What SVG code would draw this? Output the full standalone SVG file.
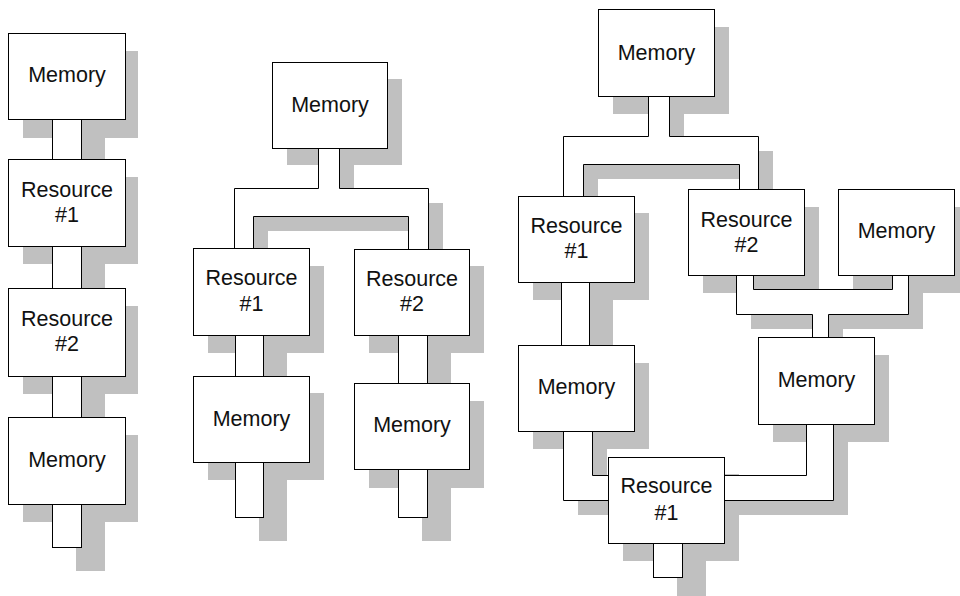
<svg xmlns="http://www.w3.org/2000/svg" xmlns:xlink="http://www.w3.org/1999/xlink" width="960" height="596" viewBox="0 0 960 596">
<style>
.sh{fill:#c0c0c0;stroke:none}
.bx{fill:#fff;stroke:#000;stroke-width:1}
.bf{fill:#fff;stroke:none}
.ln{fill:none;stroke:#000;stroke-width:1}
text{font-family:"Liberation Sans",Arial,sans-serif;font-size:21.5px;fill:#111;text-anchor:middle}
</style>
<defs>
<polygon id="b2" points="318,148 318,188 234,188 234,248 253,248 253,216 408,216 408,249 428,249 428,188 339,188 339,148"/>
<polygon id="b3t" points="648,96 648,136 563,136 563,196 583,196 583,164 739,164 739,189 758,189 758,136 669,136 669,96"/>
<polygon id="b3r" points="736,275 736,314 812,314 812,337 828,337 828,314 908,314 908,275 892,275 892,289 753,289 753,275"/>
<polygon id="b3l" points="563,431 563,500 608,500 608,475 592,475 592,431"/>
<polygon id="b3m" points="806,424 806,475 724,475 724,500 833,500 833,424"/>
</defs>
<g id="shadows" class="sh">
<rect x="23" y="51" width="115" height="87"/>
<rect x="23" y="177" width="115" height="87"/>
<rect x="23" y="306" width="115" height="88"/>
<rect x="23" y="435" width="115" height="87"/>
<rect x="76" y="119" width="29" height="64"/>
<rect x="76" y="246" width="29" height="66"/>
<rect x="76" y="376" width="29" height="65"/>
<rect x="76" y="504" width="29" height="67"/>
<rect x="287" y="79" width="115" height="86"/>
<rect x="208" y="266" width="116" height="87"/>
<rect x="369" y="266" width="115" height="87"/>
<rect x="208" y="393" width="116" height="87"/>
<rect x="369" y="401" width="115" height="87"/>
<rect x="259" y="335" width="28" height="65"/>
<rect x="259" y="462" width="28" height="79"/>
<rect x="422" y="335" width="29" height="72"/>
<rect x="422" y="469" width="29" height="72"/>
<use xlink:href="#b2" transform="translate(15,15)"/>
<rect x="613" y="27" width="116" height="87"/>
<rect x="533" y="213" width="116" height="87"/>
<rect x="703" y="207" width="116" height="86"/>
<rect x="853" y="207" width="116" height="86"/>
<rect x="533" y="363" width="116" height="86"/>
<rect x="773" y="355" width="116" height="87"/>
<rect x="623" y="474" width="116" height="87"/>
<rect x="585" y="282" width="28" height="87"/>
<rect x="677" y="543" width="29" height="58"/>
<use xlink:href="#b3t" transform="translate(15,15)"/>
<use xlink:href="#b3r" transform="translate(15,15)"/>
<use xlink:href="#b3l" transform="translate(15,15)"/>
<use xlink:href="#b3m" transform="translate(15,15)"/>
</g>
<g id="connectors" transform="translate(0.5,0.5)">
<rect class="bx" x="52" y="119" width="29" height="40"/>
<rect class="bx" x="52" y="246" width="29" height="42"/>
<rect class="bx" x="52" y="376" width="29" height="41"/>
<rect class="bx" x="52" y="504" width="29" height="43"/>
<rect class="bx" x="235" y="335" width="28" height="41"/>
<rect class="bx" x="235" y="462" width="28" height="55"/>
<rect class="bx" x="398" y="335" width="29" height="48"/>
<rect class="bx" x="398" y="469" width="29" height="48"/>
<rect class="bx" x="561" y="282" width="28" height="63"/>
<rect class="bx" x="653" y="543" width="29" height="34"/>
<use xlink:href="#b2" class="bf"/>
<use xlink:href="#b3t" class="bf"/>
<use xlink:href="#b3r" class="bf"/>
<use xlink:href="#b3l" class="bf"/>
<use xlink:href="#b3m" class="bf"/>
<polyline class="ln" points="318,148 318,188 234,188 234,248"/>
<polyline class="ln" points="253,248 253,216 408,216 408,249"/>
<polyline class="ln" points="339,148 339,188 428,188 428,249"/>
<polyline class="ln" points="648,96 648,136 563,136 563,196"/>
<polyline class="ln" points="583,196 583,164 739,164 739,189"/>
<polyline class="ln" points="669,96 669,136 758,136 758,189"/>
<polyline class="ln" points="736,275 736,314 812,314 812,337"/>
<polyline class="ln" points="828,337 828,314 908,314 908,275"/>
<polyline class="ln" points="753,275 753,289 892,289 892,275"/>
<polyline class="ln" points="563,431 563,500 608,500"/>
<polyline class="ln" points="592,431 592,475 608,475"/>
<polyline class="ln" points="806,424 806,475 724,475"/>
<polyline class="ln" points="833,424 833,500 724,500"/>
</g>
<g id="c1-memory-top"><rect class="bx" x="8.5" y="33.5" width="117" height="86"/><text x="67" y="82">Memory</text></g>
<g id="c1-resource-1"><rect class="bx" x="8.5" y="159.5" width="117" height="87"/><text x="67" y="197">Resource</text><text x="67" y="222">#1</text></g>
<g id="c1-resource-2"><rect class="bx" x="8.5" y="288.5" width="117" height="88"/><text x="67" y="326">Resource</text><text x="67" y="351">#2</text></g>
<g id="c1-memory-bottom"><rect class="bx" x="8.5" y="417.5" width="117" height="87"/><text x="67" y="467">Memory</text></g>
<g id="c2-memory-top"><rect class="bx" x="272.5" y="62.5" width="115" height="86"/><text x="330" y="112">Memory</text></g>
<g id="c2-resource-1"><rect class="bx" x="193.5" y="248.5" width="116" height="87"/><text x="251.5" y="285">Resource</text><text x="251.5" y="311">#1</text></g>
<g id="c2-resource-2"><rect class="bx" x="354.5" y="249.5" width="115" height="86"/><text x="412" y="285.5">Resource</text><text x="412" y="311">#2</text></g>
<g id="c2-memory-left"><rect class="bx" x="193.5" y="376.5" width="116" height="86"/><text x="251.5" y="426">Memory</text></g>
<g id="c2-memory-right"><rect class="bx" x="354.5" y="383.5" width="115" height="86"/><text x="412" y="432">Memory</text></g>
<g id="c3-memory-top"><rect class="bx" x="598.5" y="9.5" width="116" height="87"/><text x="656.5" y="60">Memory</text></g>
<g id="c3-resource-1"><rect class="bx" x="518.5" y="196.5" width="116" height="86"/><text x="576.5" y="232.5">Resource</text><text x="576.5" y="258">#1</text></g>
<g id="c3-resource-2"><rect class="bx" x="688.5" y="189.5" width="116" height="86"/><text x="746.5" y="227">Resource</text><text x="746.5" y="251.5">#2</text></g>
<g id="c3-memory-right"><rect class="bx" x="838.5" y="189.5" width="116" height="86"/><text x="896.5" y="238">Memory</text></g>
<g id="c3-memory-left"><rect class="bx" x="518.5" y="345.5" width="116" height="86"/><text x="576.5" y="394">Memory</text></g>
<g id="c3-memory-mid"><rect class="bx" x="758.5" y="337.5" width="116" height="87"/><text x="816.5" y="387">Memory</text></g>
<g id="c3-resource-bottom"><rect class="bx" x="608.5" y="457.5" width="116" height="86"/><text x="666.5" y="493">Resource</text><text x="666.5" y="520">#1</text></g>
</svg>
